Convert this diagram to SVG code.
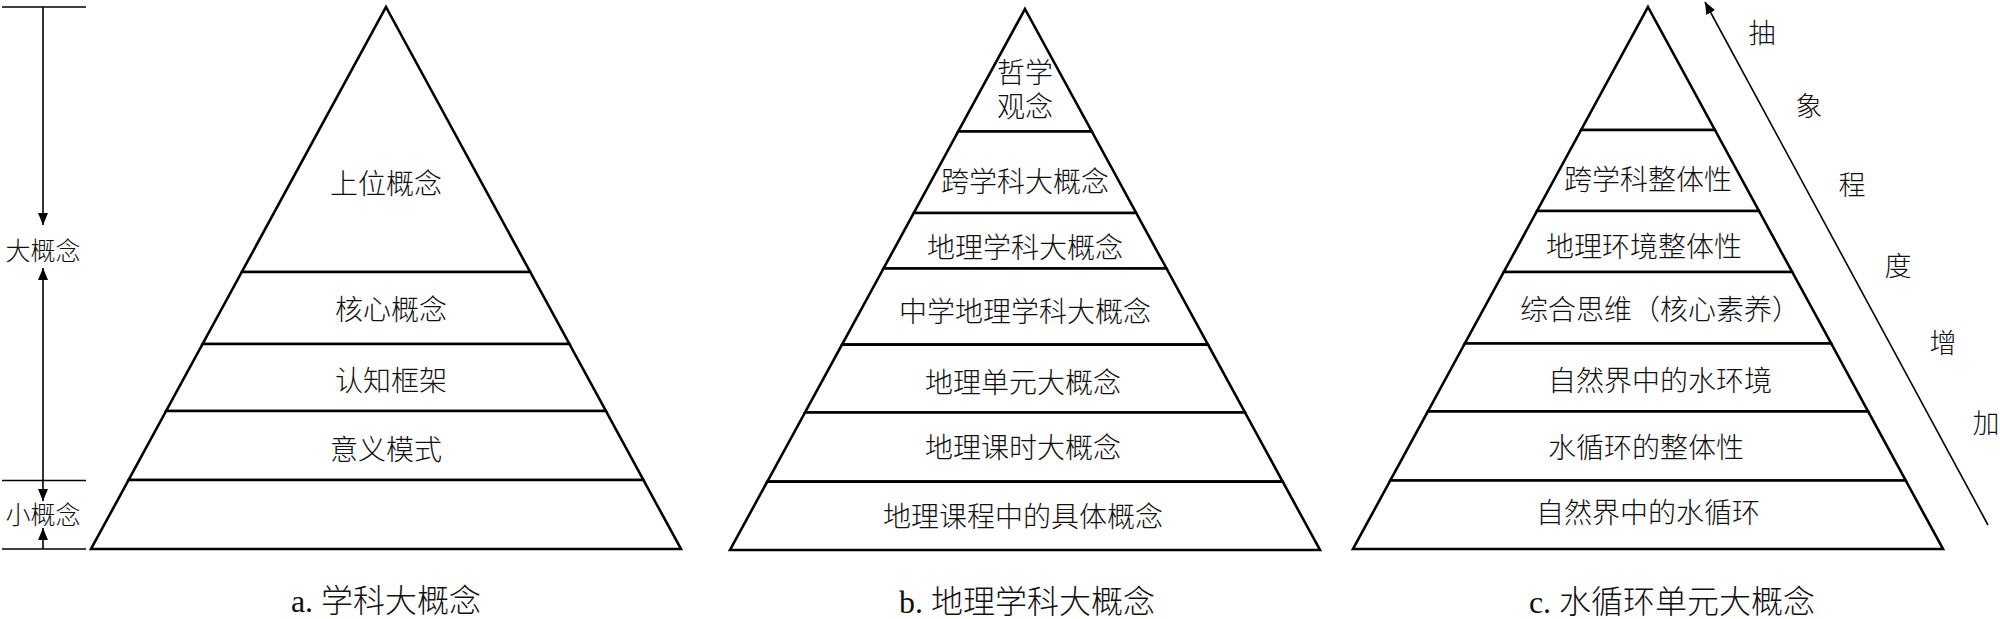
<svg xmlns="http://www.w3.org/2000/svg" width="2000" height="619" viewBox="0 0 2000 619">
<style>
.bg{fill:#fff}
.layer{fill:#fff;stroke:#000;stroke-width:2.6;stroke-linejoin:miter}
.t{font-family:"Liberation Serif","Noto Sans CJK SC",serif;font-size:28px;font-weight:300;fill:#111;text-anchor:middle;dominant-baseline:central}
.side{font-size:25px}
.cap{font-size:32px}
.ab{font-size:27px}
.ln{stroke:#000;stroke-width:1.6;fill:none}
</style>
<defs>
<marker id="ah" viewBox="0 0 12 10" refX="12" refY="5" markerWidth="12" markerHeight="10" markerUnits="userSpaceOnUse" orient="auto-start-reverse">
<path d="M0,0 L12,5 L0,10 Z" fill="#000"/>
</marker>
</defs>
<rect class="bg" x="0" y="0" width="2000" height="619"/>

<g id="connectors">
<line class="ln" x1="2" y1="7" x2="86" y2="7"/>
<line class="ln" x1="2" y1="480.5" x2="86" y2="480.5"/>
<line class="ln" x1="2" y1="549" x2="86" y2="549"/>
<line class="ln" x1="43" y1="7" x2="43" y2="225" marker-end="url(#ah)"/>
<line class="ln" x1="43" y1="268" x2="43" y2="501" marker-start="url(#ah)" marker-end="url(#ah)"/>
<line class="ln" x1="43" y1="549" x2="43" y2="528" marker-end="url(#ah)"/>
<line class="ln" x1="1988" y1="525" x2="1705" y2="2" marker-end="url(#ah)"/>
</g>

<g id="side-labels">
<text class="t side" x="43" y="251">大概念</text>
<text class="t side" x="43" y="515">小概念</text>
</g>

<g id="pyramid-a">
<g id="a1"><polygon class="layer" points="386,7 530.2,272 241.8,272"/><text class="t" x="386" y="184">上位概念</text></g>
<g id="a2"><polygon class="layer" points="241.8,272 530.2,272 569.4,344 202.6,344"/><text class="t" x="391" y="310">核心概念</text></g>
<g id="a3"><polygon class="layer" points="202.6,344 569.4,344 605.9,411 166.1,411"/><text class="t" x="391" y="381">认知框架</text></g>
<g id="a4"><polygon class="layer" points="166.1,411 605.9,411 643.4,480 128.6,480"/><text class="t" x="386" y="450">意义模式</text></g>
<g id="a5"><polygon class="layer" points="128.6,480 643.4,480 681,549 91,549"/></g>
<text class="t cap" x="386" y="601">a. 学科大概念</text>
</g>

<g id="pyramid-b">
<g id="b1"><polygon class="layer" points="1025,9 1091.8,131.5 958.2,131.5"/><text class="t" x="1025" y="73">哲学</text><text class="t" x="1025" y="107">观念</text></g>
<g id="b2"><polygon class="layer" points="958.2,131.5 1091.8,131.5 1136.2,213 913.8,213"/><text class="t" x="1025" y="182">跨学科大概念</text></g>
<g id="b3"><polygon class="layer" points="913.8,213 1136.2,213 1166.5,268.5 883.5,268.5"/><text class="t" x="1025" y="248">地理学科大概念</text></g>
<g id="b4"><polygon class="layer" points="883.5,268.5 1166.5,268.5 1208,344.6 842,344.6"/><text class="t" x="1025" y="312">中学地理学科大概念</text></g>
<g id="b5"><polygon class="layer" points="842,344.6 1208,344.6 1245,412.5 805,412.5"/><text class="t" x="1023" y="383">地理单元大概念</text></g>
<g id="b6"><polygon class="layer" points="805,412.5 1245,412.5 1282.7,481.6 767.3,481.6"/><text class="t" x="1023" y="448">地理课时大概念</text></g>
<g id="b7"><polygon class="layer" points="767.3,481.6 1282.7,481.6 1320,550 730,550"/><text class="t" x="1023" y="517">地理课程中的具体概念</text></g>
<text class="t cap" x="1027" y="602">b. 地理学科大概念</text>
</g>

<g id="pyramid-c">
<g id="c1"><polygon class="layer" points="1648,7 1714.9,130 1581.1,130"/></g>
<g id="c2"><polygon class="layer" points="1581.1,130 1714.9,130 1759,211 1537,211"/><text class="t" x="1648" y="180">跨学科整体性</text></g>
<g id="c3"><polygon class="layer" points="1537,211 1759,211 1792.2,272 1503.8,272"/><text class="t" x="1644" y="247">地理环境整体性</text></g>
<g id="c4"><polygon class="layer" points="1503.8,272 1792.2,272 1831.2,343.5 1464.8,343.5"/><text class="t" x="1660" y="310">综合思维（核心素养）</text></g>
<g id="c5"><polygon class="layer" points="1464.8,343.5 1831.2,343.5 1868.1,411.4 1427.9,411.4"/><text class="t" x="1660" y="381">自然界中的水环境</text></g>
<g id="c6"><polygon class="layer" points="1427.9,411.4 1868.1,411.4 1905.7,480.5 1390.3,480.5"/><text class="t" x="1646" y="448">水循环的整体性</text></g>
<g id="c7"><polygon class="layer" points="1390.3,480.5 1905.7,480.5 1943,549 1353,549"/><text class="t" x="1648" y="513">自然界中的水循环</text></g>
<text class="t cap" x="1672" y="602">c. 水循环单元大概念</text>
</g>

<g id="abstraction-labels">
<text class="t ab" x="1762" y="34">抽</text>
<text class="t ab" x="1809" y="107">象</text>
<text class="t ab" x="1852" y="186">程</text>
<text class="t ab" x="1898" y="267">度</text>
<text class="t ab" x="1943" y="344">增</text>
<text class="t ab" x="1986" y="424">加</text>
</g>
</svg>
